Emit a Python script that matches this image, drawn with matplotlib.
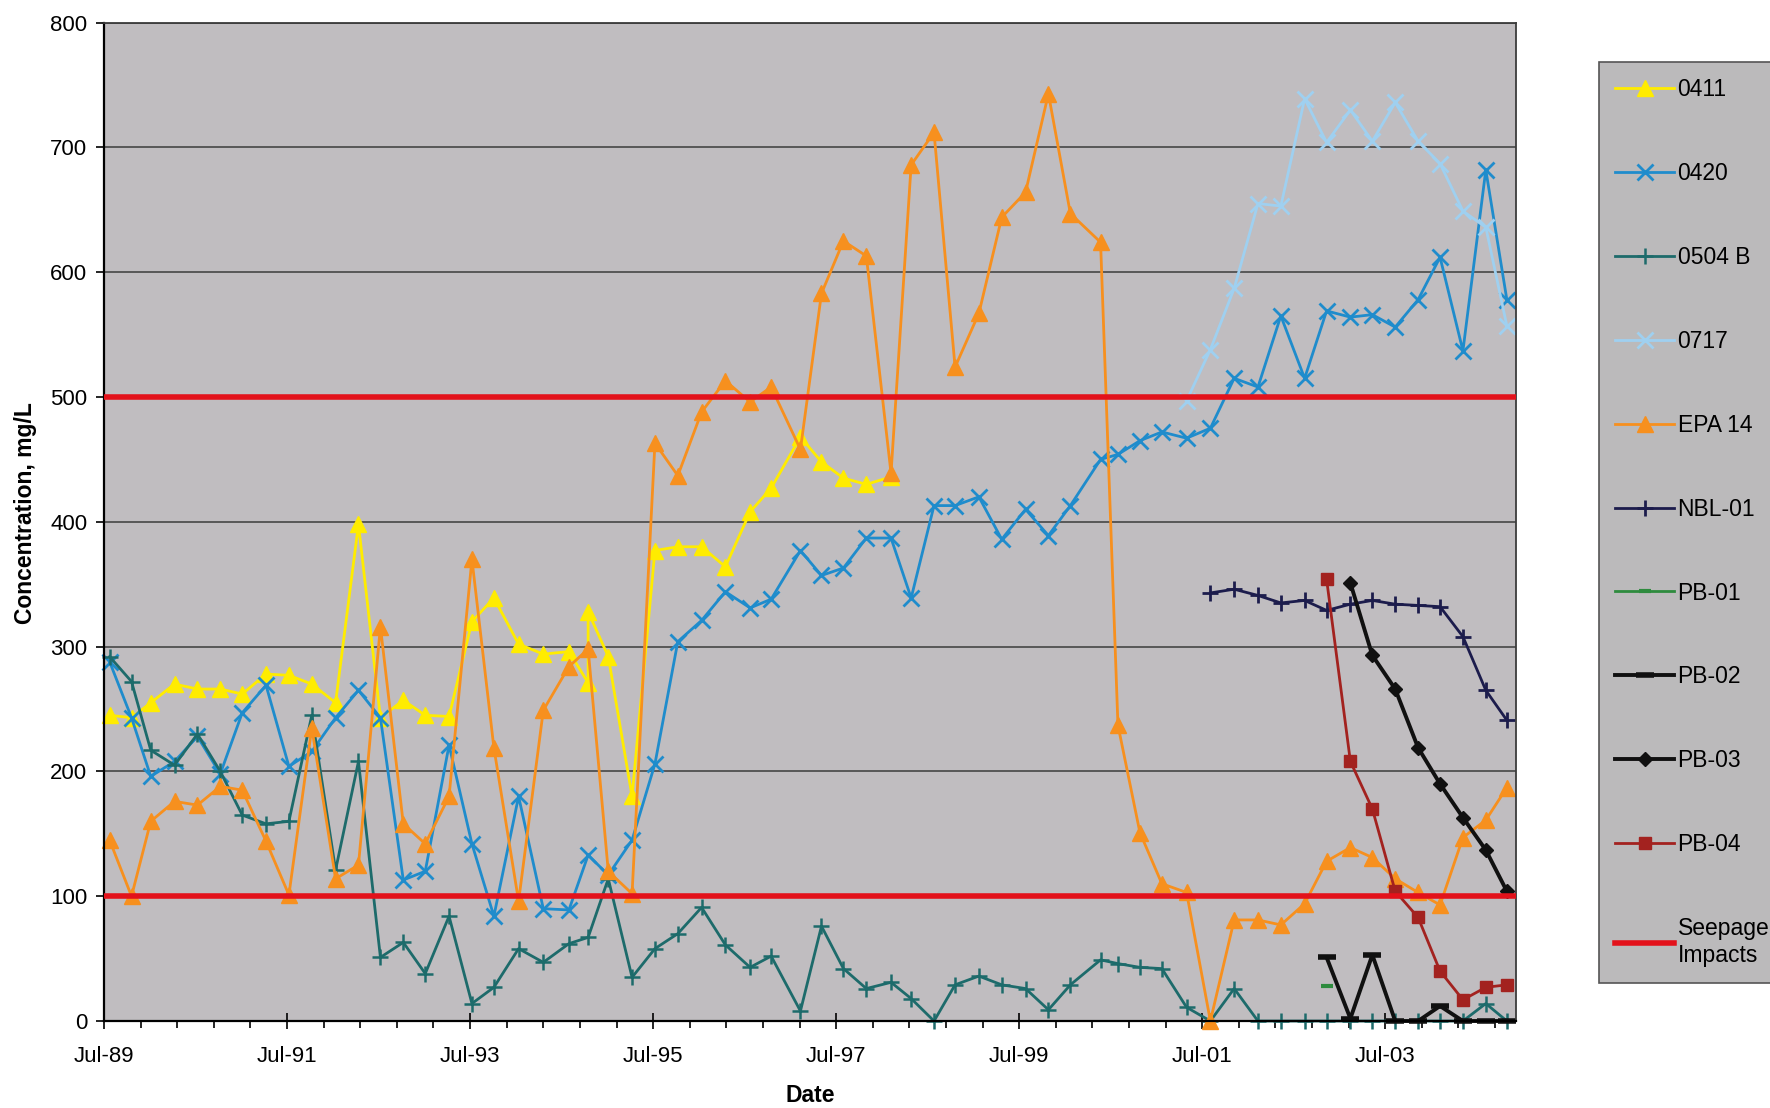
import matplotlib
matplotlib.use("Agg")
import matplotlib.pyplot as plt
import numpy as np

# sample dates in decimal years, shared by the wells
dates = [1989.56, 1989.80, 1990.01, 1990.27, 1990.52, 1990.77, 1991.01, 1991.27,
         1991.52, 1991.77, 1992.03, 1992.28, 1992.52, 1992.77, 1993.01, 1993.27,
         1993.52, 1993.76, 1994.03, 1994.30, 1994.58, 1994.79, 1995.01, 1995.27,
         1995.52, 1995.77, 1996.03, 1996.29, 1996.56, 1996.79, 1997.11, 1997.34,
         1997.58, 1997.83, 1998.10, 1998.32, 1998.57, 1998.80, 1999.06, 1999.31,
         1999.57, 1999.82, 2000.06, 2000.39, 2000.58, 2000.82, 2001.06, 2001.33,
         2001.59, 2001.85, 2002.11, 2002.36, 2002.62, 2002.86, 2003.12, 2003.36,
         2003.61, 2003.86, 2004.10, 2004.35, 2004.60, 2004.83]

tick_years = [1989.5, 1991.5, 1993.5, 1995.5, 1997.5, 1999.5, 2001.5, 2003.5]
tick_labels = ["Jul-89", "Jul-91", "Jul-93", "Jul-95", "Jul-97", "Jul-99", "Jul-01", "Jul-03"]

# 0411 has two samples on the 22nd date
conc_0411 = [245, 243, 255, 270, 266, 266, 262, 278, 277, 270, 255, 398, 243, 257,
             245, 244, 320, 339, 302, 294, 296, 271, 328, 292, 180, 377, 380, 380,
             364, 408, 427, 468, 448, 435, 430, 436]
dates_0411 = dates[:22] + [dates[21]] + dates[22:35]

conc_0420 = [288, 243, 196, 208, 228, 198, 247, 269, 204, 216, 243, 265, 243, 113,
             120, 221, 142, 84, 180, 90, 89, 133, 117, 145, 206, 304, 321, 344,
             331, 338, 377, 357, 363, 387, 387, 339, 413, 413, 420, 386, 410, 389,
             413, 450, 454, 465, 472, 467, 475, 515, 508, 565, 515, 569, 564, 566,
             556, 578, 612, 537, 682, 578]

conc_0504b = [292, 272, 217, 205, 230, 200, 165, 158, 160, 245, 121, 208, 51, 63,
              38, 84, 14, 27, 58, 47, 62, 67, 114, 35, 58, 70, 91, 61, 43, 52, 8,
              76, 42, 26, 31, 18, 0, 29, 36, 29, 26, 9, 29, 49, 46, 43, 42, 11, 0,
              26, 0, 0, 0, 0, 0, 0, 0, 0, 0, 0, 14, 0]

start_0717 = 47
conc_0717 = [497, 538, 587, 655, 653, 739, 704, 730, 705, 736, 705, 687, 649, 636, 557]

conc_epa14 = [145, 100, 160, 176, 173, 188, 185, 144, 101, 235, 114, 125, 316, 158,
              142, 180, 370, 219, 96, 249, 284, 298, 120, 102, 463, 437, 488, 513,
              496, 508, 458, 583, 625, 613, 439, 686, 712, 524, 567, 644, 664, 743,
              647, 624, 237, 151, 110, 103, 0, 81, 81, 77, 94, 128, 139, 131, 114,
              103, 93, 147, 161, 187]

start_nbl = 48
conc_nbl01 = [343, 346, 341, 335, 337, 329, 334, 337, 334, 333, 332, 308, 265, 241]

start_pb01 = 53
conc_pb01 = [28]

start_pb02 = 53
conc_pb02 = [51, 2, 53, 0, 0, 12, 0, 0, 0]

start_pb03 = 54
conc_pb03 = [351, 293, 266, 219, 190, 163, 137, 104]

start_pb04 = 53
conc_pb04 = [354, 208, 170, 104, 83, 40, 17, 27, 29]

seepage_levels = [100, 500]

plt.rcParams['font.family'] = ['Liberation Sans', 'DejaVu Sans']

fig = plt.figure(figsize=(17.7, 11.08), dpi=100)
ax = fig.add_axes([0.0588, 0.0785, 0.7977, 0.9011])
ax.set_facecolor('#c0bdc0')

series = [
    ("0411", dates_0411, conc_0411, dict(color='#ffec00', marker='^', ms=11)),
    ("0420", dates, conc_0420, dict(color='#1f8ccc', marker='x', ms=11, mew=2)),
    ("0504 B", dates, conc_0504b, dict(color='#1d6b6b', marker='+', ms=12, mew=1.8)),
    ("0717", dates[start_0717:], conc_0717, dict(color='#9fd0f0', marker='x', ms=11, mew=2)),
    ("EPA 14", dates, conc_epa14, dict(color='#f7901e', marker='^', ms=11)),
    ("NBL-01", dates[start_nbl:start_nbl + len(conc_nbl01)], conc_nbl01,
     dict(color='#1c1c4c', marker='+', ms=12, mew=2)),
    ("PB-01", dates[start_pb01:start_pb01 + len(conc_pb01)], conc_pb01,
     dict(color='#2e8b3e', marker='_', ms=9, mew=3)),
    ("PB-02", dates[start_pb02:start_pb02 + len(conc_pb02)], conc_pb02,
     dict(color='#101010', marker='_', ms=13, mew=4, lw=2.8)),
    ("PB-03", dates[start_pb03:start_pb03 + len(conc_pb03)], conc_pb03,
     dict(color='#101010', marker='D', ms=7, lw=2.8)),
    ("PB-04", dates[start_pb04:start_pb04 + len(conc_pb04)], conc_pb04,
     dict(color='#a3221f', marker='s', ms=9)),
]

handles = []
for name, x, y, style in series:
    kw = dict(lw=2.0)
    kw.update(style)
    line, = ax.plot(x, y, label=name, mec=kw['color'], clip_on=False, **kw)
    handles.append(line)

for level in seepage_levels:
    seep = ax.axhline(level, color='#e3121b', lw=4, zorder=5)
handles.append(seep)

ax.set_xlim(1989.5, 2004.93)
ax.set_ylim(0, 800)
ax.set_yticks(range(0, 801, 100))
ax.yaxis.grid(True, color='#3c3c3c', lw=1.1)
ax.set_axisbelow(True)

ax.set_xticks(tick_years)
ax.set_xticklabels(tick_labels)
ax.set_xticks(np.arange(1989.5, 2004.93, 0.4), minor=True)

ax.tick_params(axis='y', direction='out', length=6, width=1.2, labelsize=16, pad=6)
ax.tick_params(axis='x', which='major', direction='inout', length=12, width=1.2,
               labelsize=16, pad=12)
ax.tick_params(axis='x', which='minor', direction='out', length=5, width=1.2)

for side in ['left', 'bottom']:
    ax.spines[side].set_color('black')
    ax.spines[side].set_linewidth(1.6)
for side in ['top', 'right']:
    ax.spines[side].set_color('#3c3c3c')
    ax.spines[side].set_linewidth(1.3)

ax.set_xlabel("Date", fontsize=16.5, fontweight='bold')
ax.xaxis.label.set_va('center')
ax.xaxis.set_label_coords(0.5, -0.075)
ax.set_ylabel("Concentration, mg/L", fontsize=16.5, fontweight='bold')
ax.yaxis.label.set_va('center')
ax.yaxis.set_label_coords(-0.056, 0.509)

labels = [s[0] for s in series] + ["Seepage\nImpacts"]
leg = fig.legend(handles, labels, loc='upper left', bbox_to_anchor=(0.9034, 0.9443),
                 borderaxespad=0, frameon=True, fancybox=False, facecolor='#bbbabb',
                 edgecolor='#555555', framealpha=1, fontsize=16.5, labelspacing=2.66,
                 handlelength=2.58, handletextpad=0.15, borderpad=0.7)
leg.get_frame().set_linewidth(1.2)

fig.savefig("out.png", dpi=100)
